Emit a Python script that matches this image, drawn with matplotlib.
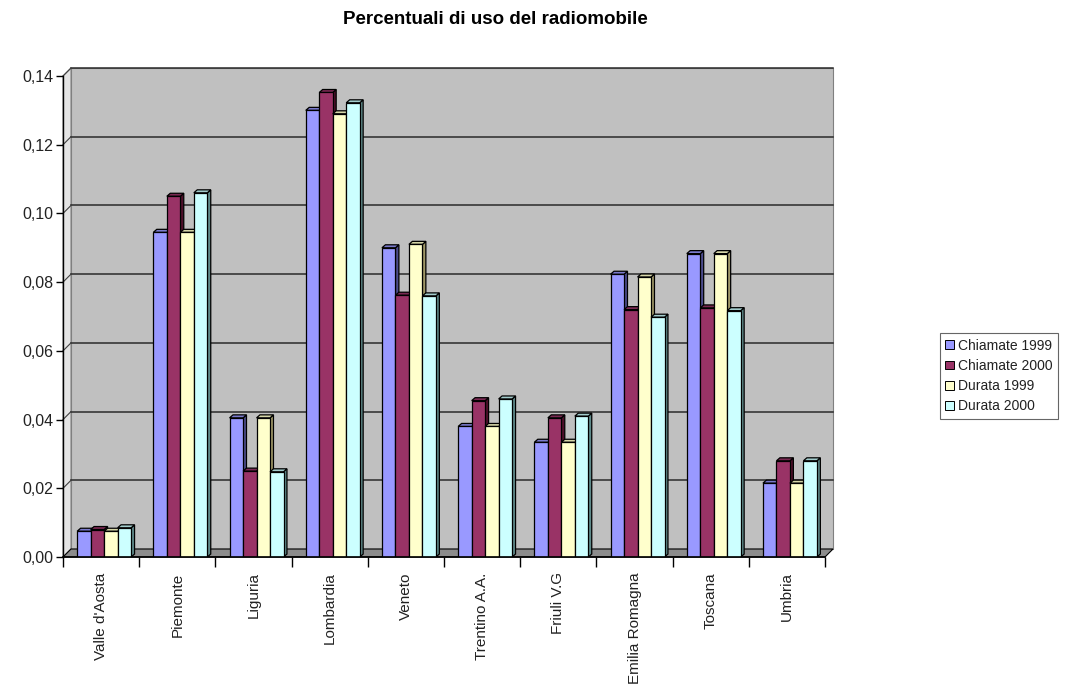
import matplotlib.pyplot as plt
from matplotlib.patches import Polygon, Patch
from matplotlib.ticker import FuncFormatter

plt.rcParams['font.family'] = ['Liberation Sans', 'DejaVu Sans']

regioni = ["Valle d'Aosta", "Piemonte", "Liguria", "Lombardia", "Veneto",
           "Trentino A.A.", "Friuli V.G", "Emilia Romagna", "Toscana", "Umbria"]
chiamate_1999 = [0.0075, 0.0945, 0.0405, 0.1300, 0.0900, 0.0380, 0.0334, 0.0823, 0.0883, 0.0215]
chiamate_2000 = [0.0080, 0.1050, 0.0250, 0.1352, 0.0762, 0.0455, 0.0405, 0.0720, 0.0725, 0.0280]
durata_1999 = [0.0075, 0.0945, 0.0405, 0.1290, 0.0910, 0.0380, 0.0334, 0.0815, 0.0883, 0.0215]
durata_2000 = [0.0085, 0.1060, 0.0248, 0.1322, 0.0760, 0.0460, 0.0410, 0.0698, 0.0717, 0.0280]

serie = [("Chiamate 1999", chiamate_1999), ("Chiamate 2000", chiamate_2000),
         ("Durata 1999", durata_1999), ("Durata 2000", durata_2000)]
fronte = ['#9999ff', '#993366', '#ffffcc', '#ccffff']
lato = ['#4c4c8c', '#4d0f2a', '#a09868', '#5f8a8a']
sopra = ['#7a7acc', '#7a2952', '#d6d6a8', '#a3cccc']

fig = plt.figure(figsize=(10.66, 6.85), dpi=100)
ax = fig.add_axes([63 / 1066, 128 / 685, 762 / 1066, 481 / 685])
ax.set_xlim(-0.5, 9.5)
ax.set_ylim(0, 0.14)
ax.set_facecolor('none')

# pseudo 3D: back wall, side wall, floor
wx, wy = 0.105, 0.00233
ax.add_patch(Polygon([(-0.5 + wx, wy), (9.5 + wx, wy), (9.5 + wx, 0.14 + wy), (-0.5 + wx, 0.14 + wy)],
                     closed=True, facecolor='#c0c0c0', edgecolor='#808080', lw=0.8, zorder=0, clip_on=False))
ax.add_patch(Polygon([(-0.5, 0), (-0.5 + wx, wy), (-0.5 + wx, 0.14 + wy), (-0.5, 0.14)],
                     closed=True, facecolor='#e4e4e4', edgecolor='#808080', lw=0.8, zorder=0, clip_on=False))
ax.add_patch(Polygon([(-0.5, 0), (9.5, 0), (9.5 + wx, wy), (-0.5 + wx, wy)],
                     closed=True, facecolor='#8c8c8c', edgecolor='black', lw=0.8, zorder=1, clip_on=False))
for v in [0.02, 0.04, 0.06, 0.08, 0.10, 0.12, 0.14]:
    ax.plot([-0.5 + wx, 9.5 + wx], [v + wy, v + wy], color='#2a2a2a', lw=1.1, zorder=0.5, clip_on=False)
    ax.plot([-0.5, -0.5 + wx], [v, v + wy], color='#404040', lw=0.8, zorder=0.5, clip_on=False)

w = 0.177
dx, dy = 0.045, 0.00087
for j, (nome, valori) in enumerate(serie):
    xs = [i + 0.04 + (j - 2) * w for i in range(len(regioni))]
    ax.bar(xs, valori, width=w, align='edge', color=fronte[j], edgecolor='black',
           lw=0.9, zorder=4 + 2 * j)
    for x0, h in zip(xs, valori):
        ax.add_patch(Polygon([(x0 + w, 0), (x0 + w + dx, dy), (x0 + w + dx, h + dy), (x0 + w, h)],
                             closed=True, facecolor=lato[j], edgecolor='black', lw=0.9, zorder=3 + 2 * j))
        ax.add_patch(Polygon([(x0, h), (x0 + w, h), (x0 + w + dx, h + dy), (x0 + dx, h + dy)],
                             closed=True, facecolor=sopra[j], edgecolor='black', lw=0.9, zorder=3 + 2 * j))

for s in ['top', 'right']:
    ax.spines[s].set_visible(False)
ax.spines['left'].set_zorder(20)
ax.spines['bottom'].set_zorder(20)
ax.spines['left'].set_linewidth(1.0)
ax.spines['bottom'].set_linewidth(1.2)

ax.set_yticks([0, 0.02, 0.04, 0.06, 0.08, 0.10, 0.12, 0.14])
ax.yaxis.set_major_formatter(FuncFormatter(lambda v, p: f"{v:.2f}".replace('.', ',')))
ax.tick_params(axis='y', length=5, width=1, pad=2, labelsize=11.5, labelcolor='#222222')

ax.set_xticks([i - 0.5 for i in range(11)])
ax.set_xticklabels([])
ax.set_xticks(range(len(regioni)), minor=True)
ax.set_xticklabels(regioni, minor=True, rotation=90, fontsize=11, color='#222222')
ax.tick_params(axis='x', which='major', length=7, width=1)
ax.tick_params(axis='x', which='minor', length=0, pad=11)

fig.text(0.465, 0.972, "Percentuali di uso del radiomobile", ha='center', va='center',
         fontsize=13.5, fontweight='bold')

maniglie = [Patch(facecolor=fronte[j], edgecolor='black', lw=0.7) for j in range(4)]
leg = ax.legend(maniglie, [s[0] for s in serie], loc='center', bbox_to_anchor=(0.937, 0.451),
                bbox_transform=fig.transFigure, fontsize=10, frameon=True, fancybox=False,
                edgecolor='#404040', handlelength=0.6, handleheight=0.6, handletextpad=0.3,
                labelspacing=0.45, borderpad=0.4, borderaxespad=0)
leg.get_frame().set_linewidth(0.8)
for t in leg.get_texts():
    t.set_color('#222222')

fig.savefig('out.png', dpi=100)
